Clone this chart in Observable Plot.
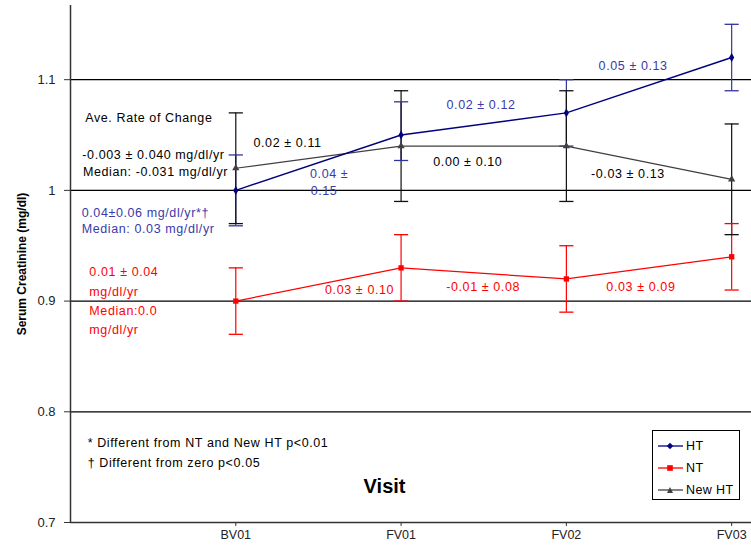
<!DOCTYPE html>
<html>
<head>
<meta charset="utf-8">
<script src="https://cdn.jsdelivr.net/npm/d3@7"></script>
<script src="https://cdn.jsdelivr.net/npm/@observablehq/plot@0.6"></script>
<style>
  html, body { margin: 0; padding: 0; background: #fff; }
  #wrap { position: relative; width: 751px; height: 550px; font-family: "Liberation Sans", Arial, sans-serif; }
  #legend { position: absolute; left: 652px; top: 430px; width: 86px; height: 68px; border: 1px solid #000; background: #fff; font-size: 12.5px; letter-spacing: 0.4px; }
  #legend .row { position: absolute; left: 5px; height: 14px; display: flex; align-items: center; }
  #legend .row span { margin-left: 3px; color: #000; }
</style>
</head>
<body>
<div id="wrap"></div>
<script>
// ---- data ----
const visits = ["BV01", "FV01", "FV02", "FV03"];
const yTicks = [0.7, 0.8, 0.9, 1.0, 1.1];

const htMean = [1.00, 1.05, 1.07, 1.12];
const htLo   = [0.968, 1.027, 1.04, 1.09];
const htHi   = [1.032, 1.08, 1.10, 1.15];

const ntMean = [0.90, 0.93, 0.92, 0.94];
const ntLo   = [0.87, 0.90, 0.89, 0.91];
const ntHi   = [0.93, 0.96, 0.95, 0.97];

const newMean = [1.02, 1.04, 1.04, 1.01];
const newLo   = [0.97, 0.99, 0.99, 0.96];
const newHi   = [1.07, 1.09, 1.09, 1.06];

const seriesNames = ["HT", "NT", "New HT"];

// annotation texts (x in visit-index units, y in mg/dl)
const notes = [
  {t: "Ave. Rate of Change",       x: -0.526, y: 1.065, c: "k", a: "middle"},
  {t: "-0.003 ± 0.040 mg/dl/yr",   x: -0.498, y: 1.032, c: "k", a: "middle"},
  {t: "Median: -0.031 mg/dl/yr",   x: -0.486, y: 1.017, c: "k", a: "middle"},
  {t: "0.04±0.06 mg/dl/yr*†",      x: -0.932, y: 0.9795, c: "b", a: "start"},
  {t: "Median: 0.03 mg/dl/yr",     x: -0.932, y: 0.965, c: "b", a: "start"},
  {t: "0.01 ± 0.04",               x: -0.886, y: 0.926, c: "r", a: "start"},
  {t: "mg/dl/yr",                  x: -0.886, y: 0.908, c: "r", a: "start"},
  {t: "Median:0.0",                x: -0.886, y: 0.891, c: "r", a: "start"},
  {t: "mg/dl/yr",                  x: -0.886, y: 0.874, c: "r", a: "start"},
  {t: "0.02 ± 0.11",               x: 0.107,  y: 1.0427, c: "k", a: "start"},
  {t: "0.04 ±",                    x: 0.449,  y: 1.015, c: "b", a: "start"},
  {t: "0.15",                      x: 0.453,  y: 0.999, c: "b", a: "start"},
  {t: "0.02 ± 0.12",               x: 1.275,  y: 1.0767, c: "b", a: "start"},
  {t: "0.05 ± 0.13",               x: 2.195,  y: 1.112, c: "b", a: "start"},
  {t: "0.00 ± 0.10",               x: 1.195,  y: 1.026, c: "k", a: "start"},
  {t: "-0.03 ± 0.13",              x: 2.149,  y: 1.015, c: "k", a: "start"},
  {t: "0.03 ± 0.10",               x: 0.54,   y: 0.910, c: "r", a: "start"},
  {t: "-0.01 ± 0.08",              x: 1.273,  y: 0.9127, c: "r", a: "start"},
  {t: "0.03 ± 0.09",               x: 2.242,  y: 0.9127, c: "r", a: "start"},
  {t: "* Different from NT and New HT p<0.01", x: -0.896, y: 0.7714, c: "k", a: "start"},
  {t: "† Different from zero p<0.05",          x: -0.896, y: 0.7533, c: "k", a: "start"}
];

// ---- build ----
const colors = {HT: "#000080", NT: "#ff0000", "New HT": "#404040"};
const barColors = {HT: "#3333a0", NT: "#ff0000", "New HT": "#111111"};
const textColors = {k: "#000", b: "#3a3aa8", r: "#ff0000"};
const symbols = {HT: "diamond", NT: "square", "New HT": "triangle"};

const means = [htMean, ntMean, newMean], los = [htLo, ntLo, newLo], his = [htHi, ntHi, newHi];
const rows = [];
seriesNames.forEach((s, k) => {
  visits.forEach((v, i) => rows.push({series: s, i, visit: v, mean: means[k][i], lo: los[k][i], hi: his[k][i]}));
});
const caps = rows.flatMap(r => [{...r, y: r.lo}, {...r, y: r.hi}]);
const capSymbol = { draw(ctx, size) { const w = Math.sqrt(size); ctx.moveTo(-w, 0); ctx.lineTo(w, 0); } };

const bySeries = s => rows.filter(r => r.series === s);
const font = "Liberation Sans, Arial, sans-serif";

const plot = Plot.plot({
  width: 751,
  height: 550,
  marginLeft: 70,
  marginRight: 0,
  marginTop: 5,
  marginBottom: 28,
  style: {fontFamily: font, background: "#fff", color: "#222"},
  x: {type: "linear", domain: [-1, 3.12], axis: null},
  y: {domain: [0.7, 1.167], axis: null},
  marks: [
    Plot.ruleY(yTicks.filter(d => d > 0.7), {stroke: "#000", strokeWidth: 1.3}),
    Plot.ruleY([0.7], {stroke: "#333", strokeWidth: 1.5}),
    Plot.ruleX([-1], {stroke: "#333", strokeWidth: 1.5}),
    Plot.axisY({ticks: yTicks, tickSize: 6, tickPadding: 9, fontSize: 13, tickFormat: d3.format(""), label: null, stroke: "#333"}),
    Plot.axisX({ticks: [0, 1, 2, 3], tickSize: 4, tickPadding: 4, fontSize: 12.5, tickFormat: i => visits[i], label: null, stroke: "#333"}),
    // error bars
    ...["HT", "New HT", "NT"].map(s => Plot.ruleX(bySeries(s), {x: "i", y1: "lo", y2: "hi", stroke: barColors[s], strokeWidth: 1.2})),
    ...["New HT", "HT", "NT"].map(s => Plot.dot(caps.filter(c => c.series === s), {x: "i", y: "y", symbol: capSymbol, r: 4, stroke: barColors[s], strokeWidth: 1.3, fill: "none"})),
    // lines
    ...["New HT", "NT", "HT"].map(s => Plot.line(bySeries(s), {x: "i", y: "mean", stroke: colors[s], strokeWidth: s === "HT" ? 1.4 : 1.2})),
    ...["New HT", "NT", "HT"].map(s => Plot.dot(bySeries(s), {x: "i", y: "mean", symbol: symbols[s], r: s === "NT" ? 3 : 2.7, fill: colors[s], stroke: "none"})),
    // annotations
    ...["start", "middle"].map(a => Plot.text(notes.filter(d => d.a === a), {x: "x", y: "y", text: "t", fill: d => textColors[d.c], textAnchor: a, fontSize: 12.5})),
    Plot.text(["Visit"], {frameAnchor: "bottom", x: 0.9, dy: -30, fontSize: 20, fontWeight: "bold", fill: "#000"}),
    Plot.text(["Serum Creatinine (mg/dl)"], {frameAnchor: "left", textAnchor: "middle", rotate: -90, dx: -48, fontSize: 12, fontWeight: "bold", fill: "#000"})
  ]
});

const noteSet = new Set(notes.map(d => d.t));
d3.select(plot).selectAll("text").filter(function() { return noteSet.has(this.textContent); }).style("letter-spacing", "0.6px");

const wrap = document.getElementById("wrap");
wrap.appendChild(plot);

// legend
const legend = document.createElement("div");
legend.id = "legend";
const marker = {
  HT: '<path d="M12,0.8 L15.2,4 L12,7.2 L8.8,4 Z" fill="#000080"/>',
  NT: '<rect x="9.2" y="1.2" width="5.6" height="5.6" fill="#ff0000"/>',
  "New HT": '<path d="M12,1 L15,7 L9,7 Z" fill="#404040"/>'
};
seriesNames.forEach((s, k) => {
  const row = document.createElement("div");
  row.className = "row";
  row.style.top = (8 + k * 22) + "px";
  row.innerHTML = `<svg width="25" height="8"><line x1="0" x2="25" y1="4" y2="4" stroke="${colors[s]}" stroke-width="1.3"/>${marker[s]}</svg><span>${s}</span>`;
  legend.appendChild(row);
});
wrap.appendChild(legend);
</script>
</body>
</html>
